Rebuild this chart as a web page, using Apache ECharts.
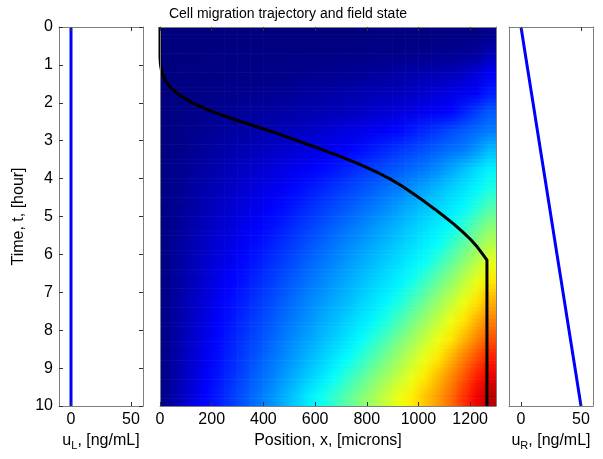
<!DOCTYPE html>
<html><head><meta charset="utf-8">
<script src="https://cdn.jsdelivr.net/npm/echarts@6/dist/echarts.min.js"></script>
<style>html,body{margin:0;padding:0;background:#fff}#c{width:603px;height:459px}</style>
</head><body><div id="c"></div>
<script>
// ---- data ----
const timeTicks = [0,1,2,3,4,5,6,7,8,9,10];
const posTicks = [0,200,400,600,800,1000,1200];
const concTicks = [0,50];
const hours = [0,1,2,3,4,5,6,7,8,9,10];
const uL = [0,0,0,0,0,0,0,0,0,0,0];
const uR = [0,5,10,15,20,25,30,35,40,45,50];
const trajT = [0,0.8,1.0,1.2,1.4,1.6,1.8,2.0,2.2,2.4,2.6,2.8,3.0,3.2,3.4,3.6,3.8,4.0,4.2,4.4,4.6,4.8,5.0,5.2,5.4,5.6,5.8,6.0,6.15,7,8,9,10];
const trajX = [0,0,2,7,20,40,75,125,190,270,360,450,530,614,692,764,830,888,938,980,1022,1062,1100,1137,1170,1201,1227,1249,1265,1265,1265,1265,1265];
const xCenters = [25,75,125,175,225,275,325,375,425,475,525,575,625,675,725,775,825,875,925,975,1025,1075,1125,1175,1225,1275];
const tCenters = [0.25,0.75,1.25,1.75,2.25,2.75,3.25,3.75,4.25,4.75,5.25,5.75,6.25,6.75,7.25,7.75,8.25,8.75,9.25,9.75];
const fieldRows = [
 [0,0,0,0,0,0,0,0,0,0,0,0,0,0,0,0,0,0.1,0.1,0.1,0.1,0.1,0.2,0.2,0.3,0.9],
 [0,0,0,0.1,0.1,0.1,0.1,0.1,0.2,0.2,0.2,0.2,0.3,0.3,0.3,0.4,0.4,0.5,0.5,0.6,0.7,0.9,1.0,1.2,1.5,2.7],
 [0,0.1,0.1,0.2,0.2,0.3,0.3,0.4,0.5,0.5,0.6,0.7,0.8,0.9,1.0,1.1,1.4,1.6,1.9,2.1,2.4,2.6,2.8,3.3,4.5,5.7],
 [0.1,0.2,0.3,0.4,0.5,0.6,0.7,0.8,0.9,1.0,1.2,1.5,1.7,1.9,2.1,2.3,2.5,2.7,2.9,3.3,3.8,4.4,4.9,5.5,6.0,7.6],
 [0.1,0.3,0.5,0.7,0.9,1.1,1.3,1.5,1.7,1.9,2.1,2.3,2.5,2.8,3.0,3.3,3.8,4.2,4.6,5.0,5.5,5.9,6.4,7.8,9.2,10.6],
 [0.1,0.4,0.7,1.0,1.3,1.6,1.8,2.1,2.4,2.7,3.0,3.4,3.8,4.3,4.7,5.1,5.6,6.0,6.6,7.4,8.2,9.0,9.9,10.7,11.5,12.3],
 [0.2,0.6,1.0,1.4,1.8,2.2,2.5,2.9,3.4,3.8,4.3,4.7,5.2,5.7,6.2,6.8,7.5,8.2,8.9,9.6,10.3,11.0,11.7,12.3,13.6,15.4],
 [0.3,0.8,1.3,1.8,2.3,2.8,3.3,3.8,4.3,4.9,5.4,5.9,6.5,7.2,7.9,8.6,9.3,10.0,10.7,11.4,12.1,13.1,14.3,15.6,16.9,18.1],
 [0.3,0.9,1.6,2.2,2.8,3.4,4.0,4.6,5.2,5.8,6.5,7.2,7.9,8.7,9.4,10.1,10.9,11.6,12.3,13.3,14.3,15.3,16.3,17.3,18.3,19.9],
 [0.4,1.1,1.8,2.5,3.2,3.9,4.6,5.3,6.0,6.7,7.5,8.3,9.1,9.8,10.6,11.4,12.2,13.0,14.0,14.9,15.8,16.7,17.6,18.5,20.4,22.6],
 [0.4,1.2,2.1,2.9,3.7,4.4,5.3,6.1,6.8,7.6,8.5,9.3,10.1,11.0,11.8,12.6,13.5,14.3,15.2,16.1,17.0,17.8,18.7,20.8,23.2,25.3],
 [0.5,1.5,2.4,3.4,4.2,5.0,5.9,6.8,7.6,8.5,9.4,10.3,11.1,12.0,12.9,13.7,14.6,15.4,16.3,17.1,18.0,18.9,21.1,23.4,25.6,27.7],
 [0.5,1.6,2.7,3.7,4.7,5.6,6.6,7.5,8.4,9.3,10.2,11.2,12.1,12.9,13.8,14.7,15.5,16.4,17.2,18.1,19.2,21.4,23.6,25.8,28.0,30.1],
 [0.6,1.8,2.9,4.1,5.2,6.3,7.2,8.2,9.1,10.1,11.0,12.0,12.9,13.8,14.7,15.6,16.5,17.3,18.2,19.6,21.7,23.9,26.0,28.1,30.2,32.5],
 [0.6,1.9,3.2,4.4,5.7,6.8,7.8,8.8,9.8,10.8,11.8,12.8,13.7,14.6,15.5,16.5,17.4,18.3,19.9,22.0,24.1,26.1,28.2,30.2,32.5,35.0],
 [0.7,2.1,3.4,4.8,6.1,7.2,8.3,9.4,10.4,11.5,12.5,13.5,14.5,15.5,16.5,17.5,18.4,20.1,22.2,24.3,26.3,28.3,30.3,32.5,34.9,37.4],
 [0.7,2.2,3.7,5.2,6.5,7.7,8.8,9.9,11.0,12.2,13.3,14.3,15.4,16.4,17.5,18.6,20.5,22.4,24.5,26.4,28.4,30.3,32.4,34.8,37.3,39.8],
 [0.8,2.4,4.0,5.5,6.8,8.0,9.3,10.5,11.7,12.9,14.0,15.2,16.4,17.6,18.8,20.7,22.7,24.6,26.5,28.4,30.3,32.4,34.9,37.5,40.0,42.4],
 [0.8,2.6,4.2,5.9,7.2,8.5,9.8,11.1,12.3,13.7,15.0,16.3,17.6,19.0,21.0,22.9,24.9,26.6,28.4,30.2,32.3,34.6,37.0,39.6,42.3,44.9],
 [0.9,2.8,4.6,6.3,7.6,9.0,10.4,11.8,13.2,14.7,16.2,17.8,19.3,21.2,23.1,25.0,26.8,28.5,30.3,32.1,34.1,36.1,38.4,41.3,44.2,47.2]
];
const jet = ['#00007F','#0000FF','#007FFF','#00FFFF','#7FFF7F','#FFFF00','#FF7F00','#FF0000','#7F0000'];

// ---- build ----
const FF = 'Liberation Sans, Arial, sans-serif';
const grey = '#7f7f7f', tickC = '#333';
const nR = tCenters.length, nC = xCenters.length;
const cellW = xCenters[1] - xCenters[0];
const cellH = tCenters[1] - tCenters[0];
const STRIPS = 5;
const cells = [];
tCenters.forEach((t, r) => xCenters.forEach((x, c) => cells.push([x, t, fieldRows[r][c]])));

function ax(grid, pos, min, max, ticks, showLabels, extra) {
  return Object.assign({
    type: 'value', gridIndex: grid, position: pos, min: min, max: max, z: 5,
    axisLine: { show: true, onZero: false, lineStyle: { color: grey, width: 1 } },
    axisTick: { show: !!ticks, inside: true, length: 4, customValues: ticks || [], lineStyle: { color: tickC } },
    axisLabel: { show: showLabels, customValues: ticks || [], margin: 6, fontSize: 16, color: '#000', fontFamily: FF,
                 formatter: function (v) { return String(v); } },
    splitLine: { show: false }
  }, extra || {});
}
const nameStyle = { fontSize: 16, color: '#000', fontFamily: FF,
  rich: { n: { fontSize: 16, color: '#000', fontFamily: FF },
          s: { fontSize: 11, color: '#000', fontFamily: FF, padding: [11, 0, 0, 0] } } };

// interpolated shading of the library-mapped cell colours (like MATLAB "shading interp")
function renderCell(params, api) {
  const idx = params.dataIndexInside;
  const r = Math.floor(idx / nC), c = idx % nC;
  const colOf = (rr, cc) => api.visual('color',
    Math.min(nR - 1, Math.max(0, rr)) * nC + Math.min(nC - 1, Math.max(0, cc)));
  const x = api.value(0), t = api.value(1);
  const children = [];
  for (let s = 0; s < STRIPS; s++) {
    const f = (s + 0.5) / STRIPS - 0.5;
    const rn = f < 0 ? r - 1 : r + 1;
    const w = Math.abs(f);
    const sc = (cc) => echarts.color.lerp(w, [colOf(r, cc), colOf(rn, cc)]);
    const cL = sc(c - 1), cM = sc(c), cRt = sc(c + 1);
    const a = api.coord([x - cellW / 2, t - cellH / 2 + s * cellH / STRIPS]);
    const b = api.coord([x + cellW / 2, t - cellH / 2 + (s + 1) * cellH / STRIPS]);
    children.push({ type: 'rect',
      shape: { x: Math.min(a[0], b[0]) - 0.3, y: Math.min(a[1], b[1]) - 0.3,
               width: Math.abs(b[0] - a[0]) + 0.6, height: Math.abs(b[1] - a[1]) + 0.6 },
      style: { fill: new echarts.graphic.LinearGradient(0, 0, 1, 0, [
        { offset: 0, color: echarts.color.lerp(0.5, [cL, cM]) },
        { offset: 0.5, color: cM },
        { offset: 1, color: echarts.color.lerp(0.5, [cM, cRt]) }]) } });
  }
  return { type: 'group', children: children };
}

const option = {
  animation: false,
  backgroundColor: '#fff',
  title: { text: 'Cell migration trajectory and field state', left: 283, top: 2, textAlign: 'center',
    textStyle: { fontSize: 14, fontWeight: 'normal', color: '#000', fontFamily: FF } },
  grid: [
    { left: 59, top: 27, width: 84, height: 379, outerBoundsMode: 'none', containLabel: false },
    { left: 160, top: 27, width: 336, height: 379, outerBoundsMode: 'none', containLabel: false },
    { left: 509, top: 27, width: 84, height: 379, outerBoundsMode: 'none', containLabel: false }
  ],
  xAxis: [
    ax(0, 'bottom', -10, 60, concTicks, true, { name: '{n|u}{s|L}{n|, [ng/mL]}', nameLocation: 'middle', nameGap: 22, nameTextStyle: nameStyle }),
    ax(0, 'top', -10, 60, concTicks, false),
    ax(1, 'bottom', 0, 1300, posTicks, true, { name: 'Position, x, [microns]', nameLocation: 'middle', nameGap: 25, nameTextStyle: nameStyle }),
    ax(1, 'top', 0, 1300, posTicks, false),
    ax(2, 'bottom', -10, 60, concTicks, true, { name: '{n|u}{s|R}{n|, [ng/mL]}', nameLocation: 'middle', nameGap: 22, nameTextStyle: nameStyle }),
    ax(2, 'top', -10, 60, concTicks, false)
  ],
  yAxis: [
    ax(0, 'left', 0, 10, timeTicks, true, { inverse: true, name: 'Time, t, [hour]', nameLocation: 'middle', nameGap: 32, nameTextStyle: nameStyle }),
    ax(0, 'right', 0, 10, timeTicks, false, { inverse: true }),
    ax(1, 'left', 0, 10, null, false, { inverse: true }),
    ax(1, 'right', 0, 10, null, false, { inverse: true }),
    ax(2, 'left', 0, 10, null, false, { inverse: true }),
    ax(2, 'right', 0, 10, null, false, { inverse: true })
  ],
  visualMap: { type: 'continuous', show: false, min: 0, max: 50, dimension: 2, seriesIndex: 0, inRange: { color: jet } },
  series: [
    { type: 'custom', xAxisIndex: 2, yAxisIndex: 2, clip: true, z: 1, data: cells, encode: { x: 0, y: 1 },
      renderItem: renderCell },
    { type: 'line', xAxisIndex: 2, yAxisIndex: 2, z: 3, symbol: 'none', clip: true, smooth: false,
      data: trajX.map((x, i) => [x, trajT[i]]), lineStyle: { color: '#000', width: 3, join: 'round' } },
    { type: 'line', xAxisIndex: 0, yAxisIndex: 0, z: 3, symbol: 'none',
      data: uL.map((u, i) => [u, hours[i]]), lineStyle: { color: '#0000ff', width: 3 } },
    { type: 'line', xAxisIndex: 4, yAxisIndex: 4, z: 3, symbol: 'none',
      data: uR.map((u, i) => [u, hours[i]]), lineStyle: { color: '#0000ff', width: 3 } }
  ]
};
const chart = echarts.init(document.getElementById('c'), null, { renderer: 'canvas' });
chart.setOption(option);
</script></body></html>
